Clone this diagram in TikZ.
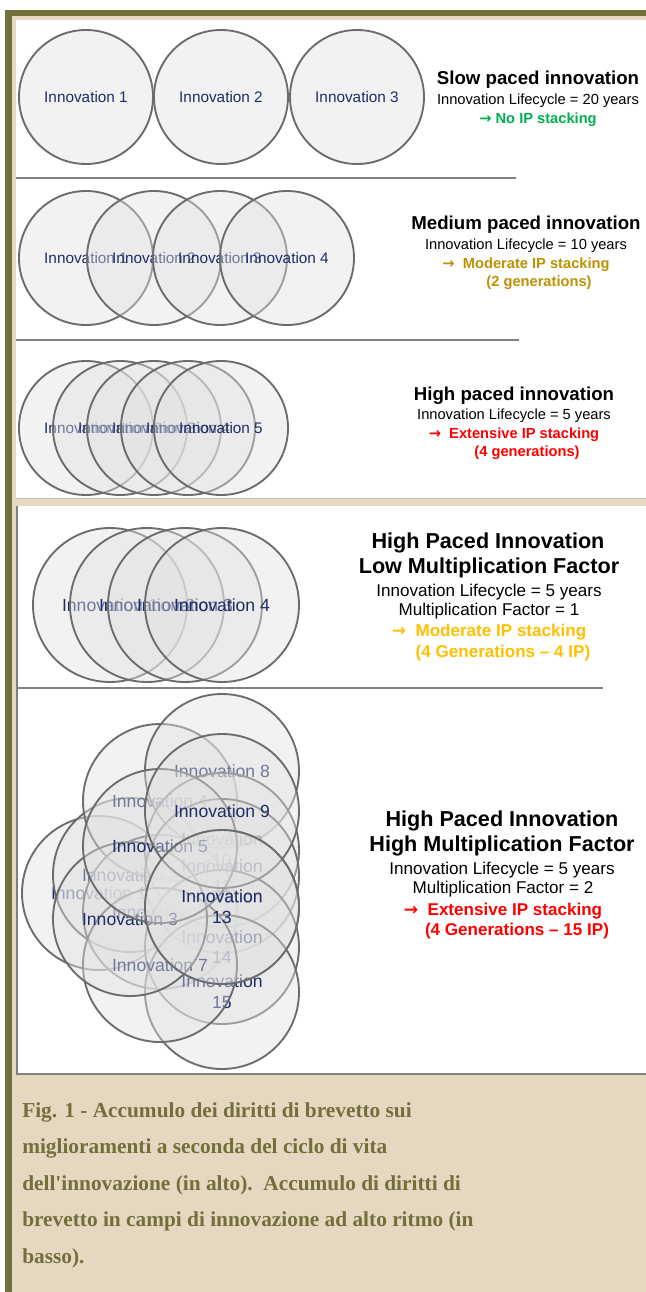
\documentclass[tikz,border=0pt]{standalone}
\usepackage{fontspec}
\setmainfont{Liberation Serif}
\setsansfont{Liberation Sans}
\newfontfamily\arrfont{DejaVu Sans}
\usepackage{tikz}
\usetikzlibrary{positioning}
\definecolor{olivebar}{RGB}{114,112,58}
\definecolor{sand}{RGB}{230,215,193}
\definecolor{bubfill}{RGB}{226,226,226}
\definecolor{ringgray}{RGB}{108,108,108}
\definecolor{inknavy}{RGB}{30,45,105}
\definecolor{okgreen}{RGB}{0,176,80}
\definecolor{darkgold}{RGB}{191,144,0}
\definecolor{amber}{RGB}{255,192,0}
\definecolor{alertred}{RGB}{255,0,0}
\definecolor{rulegray}{RGB}{128,128,128}
\definecolor{edgeblue}{RGB}{182,190,198}
\newcommand{\goes}{{\arrfont →}}

\begin{document}
\begin{tikzpicture}[x=0.75pt,y=-0.75pt,
    bub/.style={draw=ringgray,line width=1.4pt,fill=bubfill,fill opacity=0.42},
    lab/.style={text=inknavy,inner sep=0pt,align=center,font=\sffamily\fontsize{11.5}{12}\selectfont},
    labL/.style={lab,font=\sffamily\fontsize{13.2}{15.5}\selectfont},
    ttl/.style={inner sep=0pt,font=\sffamily\bfseries\fontsize{14}{16}\selectfont},
    sub/.style={inner sep=0pt,font=\sffamily\fontsize{11}{13}\selectfont},
    hot/.style={inner sep=0pt,font=\sffamily\bfseries\fontsize{11}{13}\selectfont},
    ttlL/.style={inner sep=0pt,font=\sffamily\bfseries\fontsize{16.2}{18}\selectfont},
    subL/.style={inner sep=0pt,font=\sffamily\fontsize{12.8}{15}\selectfont},
    hotL/.style={inner sep=0pt,font=\sffamily\bfseries\fontsize{12.8}{15}\selectfont},
    rulebar/.style={draw=rulegray,line width=1.3pt},
    figtext/.style={anchor=base west,inner sep=0pt,text=olivebar,font=\rmfamily\bfseries\fontsize{16}{20}\selectfont}]
\useasboundingbox (0,0) rectangle (646,1292);
\fill[white] (0,0) rectangle (646,1292);
\fill[sand] (5,10) rectangle (646,1292);
\fill[olivebar] (5,10) rectangle (646,16);
\fill[olivebar] (5,10) rectangle (12,1292);
\fill[white] (16,20) rectangle (646,498);
\fill[white] (16,506) rectangle (646,1074);
\draw[edgeblue,line width=0.9pt] (16,498.5) -- (646,498.5);
\draw[rulegray,line width=1.2pt] (16.8,506) -- (16.8,1074) -- (646,1074);

\draw[rulebar] (16,178) -- (516,178);
\draw[rulebar] (16,340) -- (519,340);
\draw[rulebar] (16,688) -- (603,688);

\foreach \n/\x in {1/86,2/221,3/357}{
  \draw[bub] (\x,97) circle[radius=67];
  \node[lab] (slow-\n) at (\x,97) {Innovation \n};
}
\foreach \n/\x in {1/86,2/154,3/220,4/287}{
  \draw[bub] (\x,258) circle[radius=67];
  \node[lab] (mid-\n) at (\x,258) {Innovation \n};
}
\foreach \n/\x in {1/86,2/120,3/154,4/188,5/221}{
  \draw[bub] (\x,428) circle[radius=67];
  \node[lab] (fast-\n) at (\x,428) {Innovation \n};
}
\foreach \n/\x in {1/110,2/147,3/185,4/222}{
  \draw[bub] (\x,605) circle[radius=77];
  \node[labL] (low-\n) at (\x,605) {Innovation \n};
}
\foreach \n/\x/\y/\t in {1/99/893/{Innovation 1},2/130/875/{Innovation 2},4/160/801/{Innovation 4},
    6/160/912/{Innovation 6},8/222/771/{Innovation 8},10/222/850/{Innovation\\10},
    11/222/876/{Innovation\\11},12/222/907/{Innovation\\12},14/222/947/{Innovation\\14},
    15/222/992/{Innovation\\15},7/160/965/{Innovation 7},3/130/919/{Innovation 3},
    5/160/846/{Innovation 5},9/222/811/{Innovation 9},13/222/907/{Innovation\\13}}{
  \draw[bub] (\x,\y) circle[radius=77];
  \node[labL] (high-\n) at (\x,\y) {\t};
}

\node[ttl] (slowhead) at (538,80) {Slow paced innovation};
\node[sub] (slowlife) at (538,101) {Innovation Lifecycle = 20 years};
\node[hot,text=okgreen] (slowip) at (538,120) {\goes\ No IP stacking};

\node[ttl] (midhead) at (526,225) {Medium paced innovation};
\node[sub] (midlife) at (526,246) {Innovation Lifecycle = 10 years};
\node[hot,text=darkgold] (midip) at (526,265) {\goes\ \ Moderate IP stacking};
\node[hot,text=darkgold] (midgen) at (539,283) {(2 generations)};

\node[ttl] (fasthead) at (514,396) {High paced innovation};
\node[sub] (fastlife) at (514,416) {Innovation Lifecycle = 5 years};
\node[hot,text=alertred] (fastip) at (514,435) {\goes\ \ Extensive IP stacking};
\node[hot,text=alertred] (fastgen) at (527,453) {(4 generations)};

\node[ttlL] (lowhead) at (488,543) {High Paced Innovation};
\node[ttlL] (lowmult) at (489,568) {Low Multiplication Factor};
\node[subL] (lowlife) at (489,592) {Innovation Lifecycle = 5 years};
\node[subL] (lowfac) at (489,611) {Multiplication Factor = 1};
\node[hotL,text=amber] (lowip) at (489,632) {\goes\ \ Moderate IP stacking};
\node[hotL,text=amber] (lowgen) at (503,653) {(4 Generations -- 4 IP)};

\node[ttlL] (highhead) at (502,821) {High Paced Innovation};
\node[ttlL] (highmult) at (502,846) {High Multiplication Factor};
\node[subL] (highlife) at (502,870) {Innovation Lifecycle = 5 years};
\node[subL] (highfac) at (503,889) {Multiplication Factor = 2};
\node[hotL,text=alertred] (highip) at (503,911) {\goes\ \ Extensive IP stacking};
\node[hotL,text=alertred] (highgen) at (517,931) {(4 Generations -- 15 IP)};

\foreach \t [count=\i] in {{Fig. 1 - Accumulo dei diritti di brevetto sui},
    {miglioramenti a seconda del ciclo di vita},
    {dell\textquotesingle innovazione (in alto).\ \ Accumulo di diritti di},
    {brevetto in campi di innovazione ad alto ritmo (in},
    {basso).}}{
  \node[figtext] (cap-\i) at (22,1080.5+36.5*\i) {\t};
}
\end{tikzpicture}
\end{document}
